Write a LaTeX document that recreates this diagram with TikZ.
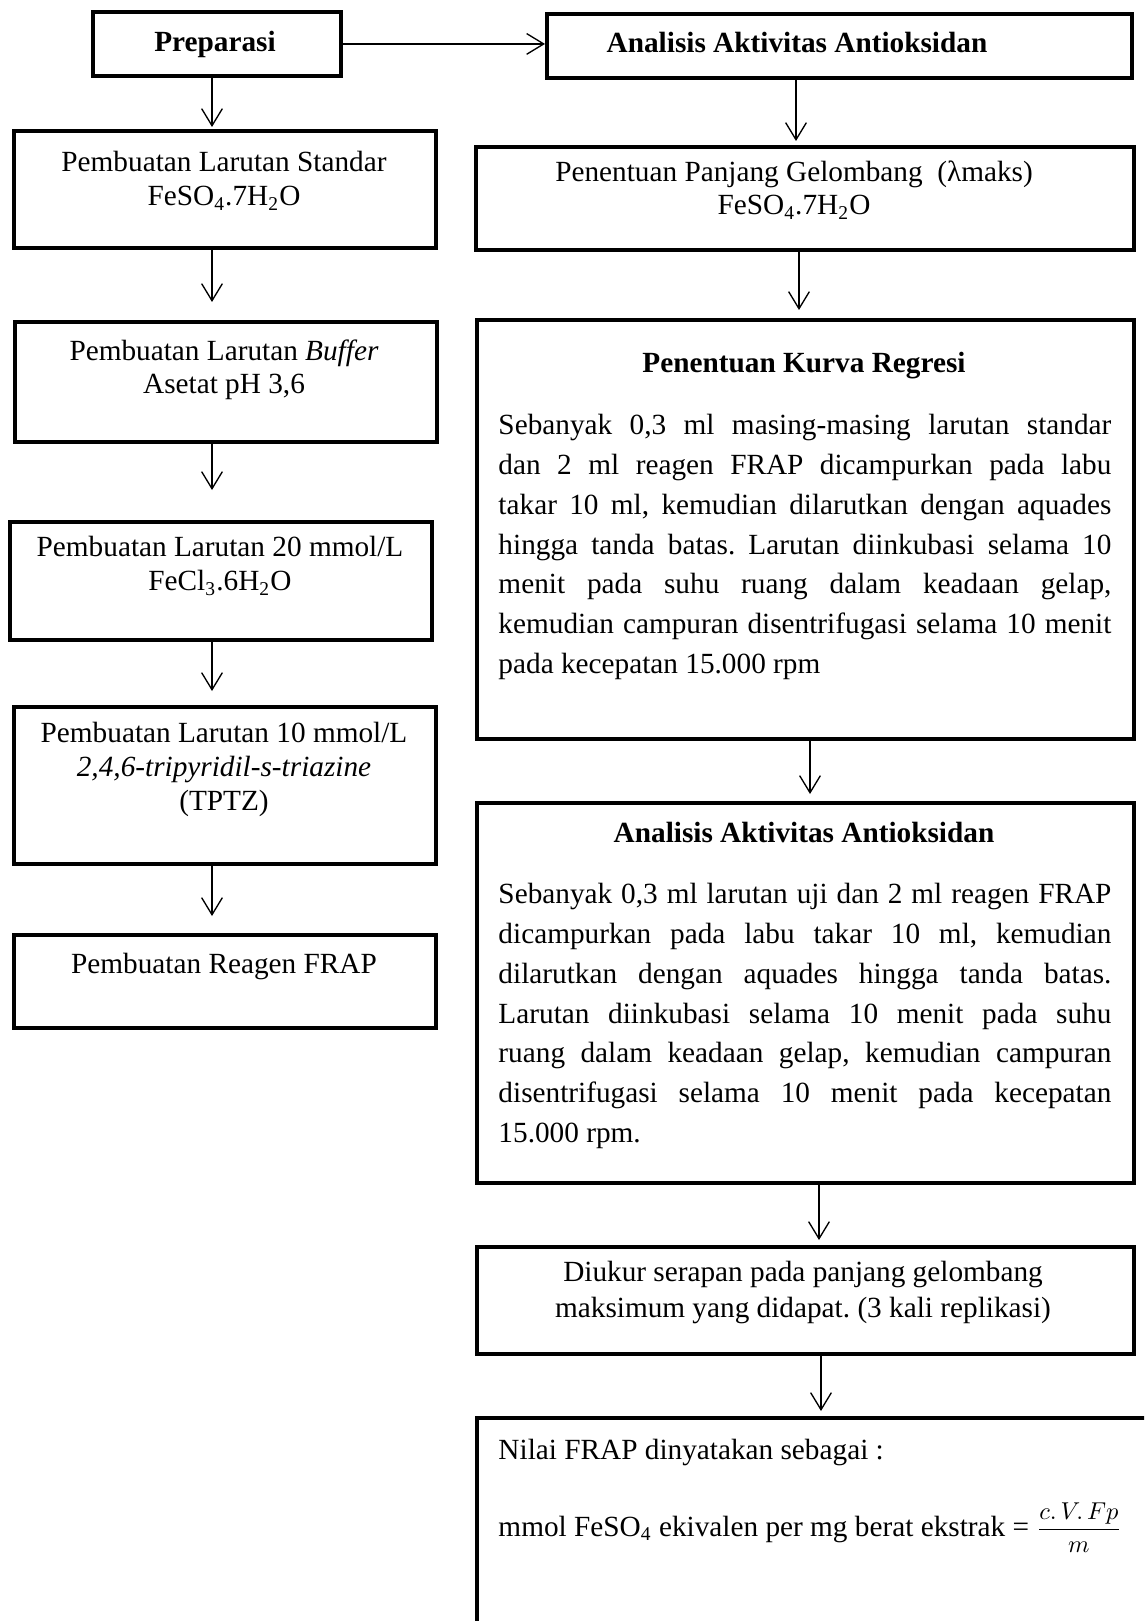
\documentclass[tikz,border=0pt]{standalone}
\usepackage{fontspec}
\setmainfont{Liberation Serif}
\usetikzlibrary{arrows.meta}
\newcommand\mkbox[5]{\node[bx,minimum width={(#4-#2)*0.41pt},minimum height={(#5-#3)*0.41pt}] (#1) at (#2,#3) {};}
\begin{document}
\fontsize{12pt}{13.9pt}\selectfont
\frenchspacing
\hyphenpenalty=10000 \exhyphenpenalty=10000
\begin{tikzpicture}[x=0.41pt,y=-0.41pt,
  bx/.style={draw,line width=1.6pt,rectangle,inner sep=0pt,anchor=north west},
  arr/.style={line width=0.55pt,-{Straight Barb[length=7pt,width=8.5pt]}},
  ctext/.style={anchor=north,align=center,inner sep=0pt},
  ltext/.style={anchor=base,inner sep=0pt},
  ptext/.style={anchor=north west,inner sep=0pt,text width=251.3pt,align=justify,font=\fontsize{12pt}{16.3pt}\selectfont}]
\useasboundingbox (0,0) rectangle (1144,1621);
\fill[white] (0,0) rectangle (1144,1621);
\clip (0,0) rectangle (1144,1621);
% left column boxes
\mkbox{prep}{91}{10}{339}{74}
\mkbox{b1}{12}{129}{434}{246}
\mkbox{b2}{13}{320}{435}{440}
\mkbox{b3}{8}{520}{430}{638}
\mkbox{b4}{12}{705}{434}{862}
\mkbox{b5}{12}{933}{434}{1026}
% right column boxes
\mkbox{top}{545}{12}{1130}{76}
\mkbox{r1}{474}{145}{1132}{248}
\mkbox{r2}{475}{318}{1132}{737}
\mkbox{r3}{475}{801}{1132}{1181}
\mkbox{r4}{475}{1245}{1132}{1352}
\mkbox{r5}{475}{1416}{1175}{1665}
% texts
\node[ltext,font=\bfseries] (preptx) at (215,52) {Preparasi};
\node[ltext,font=\bfseries] (toptx) at (797,53) {Analisis Aktivitas Antioksidan};
\node[ctext] (b1tx) at (224,151) {Pembuatan Larutan Standar\\FeSO\textsubscript{4}.7H\textsubscript{2}O};
\node[ctext] (b2tx) at (224,339) {Pembuatan Larutan \textit{Buffer}\\Asetat pH 3,6};
\node[ctext] (b3tx) at (220,536) {Pembuatan Larutan 20 mmol/L\\FeCl\textsubscript{3}.6H\textsubscript{2}O};
\node[ctext] (b4tx) at (224,722) {Pembuatan Larutan 10 mmol/L\\\textit{2,4,6-tripyridil-s-triazine}\\(TPTZ)};
\node[ltext] (b5tx) at (224,973) {Pembuatan Reagen FRAP};
\node[ctext] (r1tx) at (794,160) {Penentuan Panjang Gelombang\ \ (λmaks)\\FeSO\textsubscript{4}.7H\textsubscript{2}O};
\node[ltext,font=\bfseries] (r2ti) at (804,373) {Penentuan Kurva Regresi};
\node[ptext] (r2tx) at (498,414) {Sebanyak 0,3 ml masing-masing larutan standar\linebreak
dan 2 ml reagen FRAP dicampurkan pada labu\linebreak
takar 10 ml, kemudian dilarutkan dengan aquades\linebreak
hingga tanda batas. Larutan diinkubasi selama 10\linebreak
menit pada suhu ruang dalam keadaan gelap,\linebreak
kemudian campuran disentrifugasi selama 10 menit\linebreak
pada kecepatan 15.000 rpm};
\node[ltext,font=\bfseries] (r3ti) at (804,842) {Analisis Aktivitas Antioksidan};
\node[ptext] (r3tx) at (498,883) {Sebanyak 0,3 ml larutan uji dan 2 ml reagen FRAP\linebreak
dicampurkan pada labu takar 10 ml, kemudian\linebreak
dilarutkan dengan aquades hingga tanda batas.\linebreak
Larutan diinkubasi selama 10 menit pada suhu\linebreak
ruang dalam keadaan gelap, kemudian campuran\linebreak
disentrifugasi selama 10 menit pada kecepatan\linebreak
15.000 rpm.};
\node[ctext,font=\fontsize{12pt}{14.8pt}\selectfont] (r4tx) at (803,1261) {Diukur serapan pada panjang gelombang\\maksimum yang didapat. (3 kali replikasi)};
\node[anchor=base west,inner sep=0pt] (r5a) at (498,1459) {Nilai FRAP dinyatakan sebagai :};
\node[anchor=base west,inner sep=0pt] (r5b) at (498,1536) {mmol FeSO\textsubscript{4} ekivalen per mg berat ekstrak = {\fontsize{10pt}{12pt}\selectfont$\displaystyle\frac{c.\,V.\,Fp}{m}$}};
% arrow tips
\coordinate (t1) at (212,127);
\coordinate (t2) at (212,302);
\coordinate (t3) at (212,490);
\coordinate (t4) at (212,691);
\coordinate (t5) at (212,916);
\coordinate (u1) at (796,141);
\coordinate (u2) at (799,310);
\coordinate (u3) at (810,794);
\coordinate (u4) at (819,1240);
\coordinate (u5) at (821,1411);
% connectors
\draw[arr] (prep.east) -- (top.west |- prep.east);
\draw[arr] (prep.south -| t1) -- (t1);
\draw[arr] (b1.south -| t2) -- (t2);
\draw[arr] (b2.south -| t3) -- (t3);
\draw[arr] (b3.south -| t4) -- (t4);
\draw[arr] (b4.south -| t5) -- (t5);
\draw[arr] (top.south -| u1) -- (u1);
\draw[arr] (r1.south -| u2) -- (u2);
\draw[arr] (r2.south -| u3) -- (u3);
\draw[arr] (r3.south -| u4) -- (u4);
\draw[arr] (r4.south -| u5) -- (u5);
\end{tikzpicture}
\end{document}
